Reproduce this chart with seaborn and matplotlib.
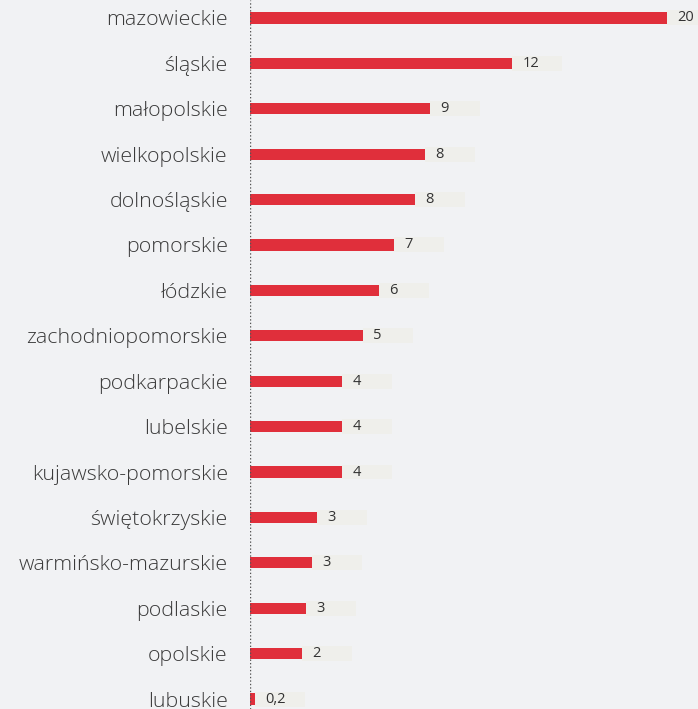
import matplotlib
matplotlib.use('Agg')
import matplotlib.pyplot as plt
import seaborn as sns
import pandas as pd

# data
regions = ['mazowieckie', 'śląskie', 'małopolskie', 'wielkopolskie', 'dolnośląskie',
           'pomorskie', 'łódzkie', 'zachodniopomorskie', 'podkarpackie', 'lubelskie',
           'kujawsko-pomorskie', 'świętokrzyskie', 'warmińsko-mazurskie', 'podlaskie',
           'opolskie', 'lubuskie']
values = [20.0, 12.57, 8.63, 8.39, 7.91, 6.9, 6.19, 5.42, 4.41, 4.41, 4.41,
          3.21, 2.97, 2.69, 2.49, 0.24]
value_labels = ['20', '12', '9', '8', '8', '7', '6', '5', '4', '4', '4',
                '3', '3', '3', '2', '0,2']

df = pd.DataFrame({'region': regions, 'value': values, 'label': value_labels})

bg = '#f1f2f4'
red = '#e02f3b'

sns.set_style('white')
plt.rcParams['font.family'] = ['Open Sans', 'DejaVu Sans']

fig = plt.figure(figsize=(6.98, 7.09), dpi=100, facecolor=bg)
ax = fig.add_axes([250 / 698, 0, 448 / 698, 1])
ax.set_facecolor(bg)

# faint label boxes behind the values
ax.barh(range(len(values)), 2.4, left=values, height=0.33, color='#efefeb',
        linewidth=0, zorder=0)

sns.barplot(data=df, y='region', x='value', color=red, width=0.245,
            saturation=1, ax=ax, orient='h', linewidth=0, zorder=2)

ax.set_xlim(0, 21.49)
ax.set_ylim(15.22, -0.396)

for i, (v, lab) in enumerate(zip(values, value_labels)):
    ax.annotate(lab, (v, i), xytext=(7.5, 0), textcoords='offset points',
                ha='left', va='center', fontsize=10.5, color='#333333', zorder=3)

# dotted baseline
ax.axvline(0, color='#555555', lw=1, ls=(0, (1, 1.5)), zorder=4)

for s in ax.spines.values():
    s.set_visible(False)
ax.set_xticks([])
ax.set_xlabel('')
ax.set_ylabel('')
ax.tick_params(axis='y', length=0, pad=16, labelsize=15.4, labelcolor='#3a3a3a')
for t in ax.get_yticklabels():
    t.set_fontweight('light')

fig.savefig('out.png', dpi=100, facecolor=bg)
